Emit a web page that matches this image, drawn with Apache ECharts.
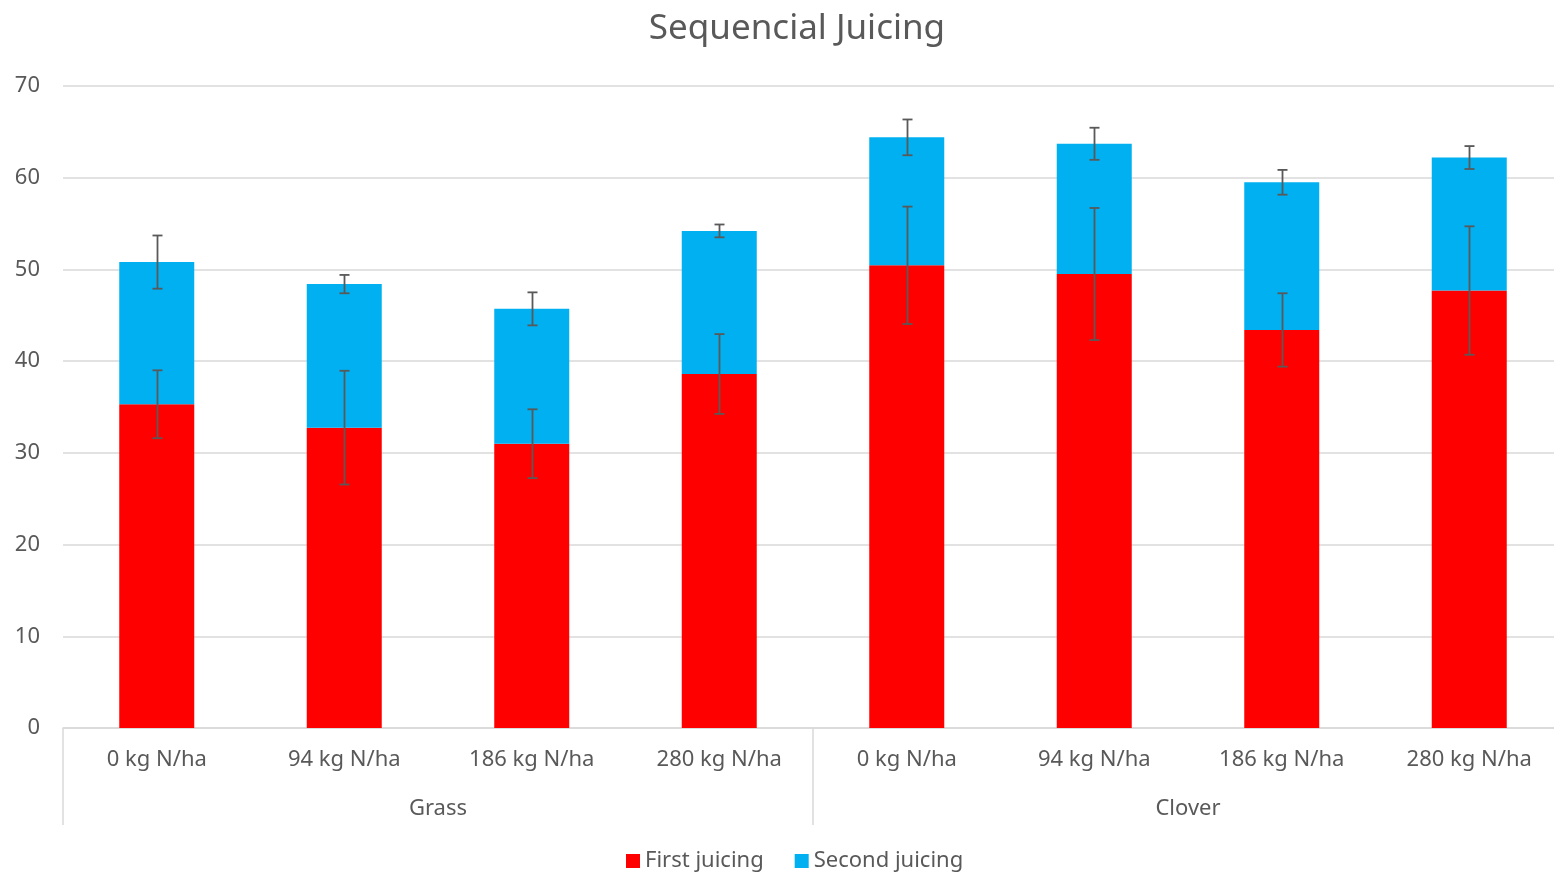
<!DOCTYPE html>
<html><head><meta charset="utf-8">
<script src="https://cdn.jsdelivr.net/npm/echarts@6/dist/echarts.min.js"></script>
<style>html,body{margin:0;padding:0;background:#fff;overflow:hidden}#c{width:1563px;height:876px}</style>
</head><body><div id="c"></div>
<script>
const categories = ['0 kg N/ha','94 kg N/ha','186 kg N/ha','280 kg N/ha','0 kg N/ha','94 kg N/ha','186 kg N/ha','280 kg N/ha'];
const groups = ['Grass','Clover'];
const firstJuicing = [35.3, 32.75, 31.0, 38.6, 50.45, 49.5, 43.4, 47.7];
const secondJuicing = [15.5, 15.65, 14.7, 15.6, 13.95, 14.2, 16.1, 14.5];
const firstErr = [3.7, 6.2, 3.75, 4.35, 6.4, 7.2, 4.0, 7.0];
const secondErr = [2.9, 1.0, 1.8, 0.7, 1.95, 1.75, 1.35, 1.25];
const yTicks = [0,10,20,30,40,50,60,70];

const FONT = '"Noto Sans", "Open Sans", sans-serif';
const TXT = '#595959';

const errData = [];
categories.forEach((c,i)=>{
  const f = firstJuicing[i];
  errData.push([i, f - firstErr[i], f + firstErr[i]]);
  const t = f + secondJuicing[i];
  errData.push([i, t - secondErr[i], t + secondErr[i]]);
});

const chart = echarts.init(document.getElementById('c'));
chart.setOption({
  animation:false,
  title:{text:'Sequencial Juicing', left:792, top:7, textAlign:'center',
    textStyle:{fontFamily:FONT, fontSize:35, fontWeight:'normal', color:TXT}},
  legend:{top:845, left:621, itemWidth:14, itemHeight:14, itemGap:31, icon:'rect',
    textStyle:{fontFamily:FONT, fontSize:22, color:TXT},
    data:['First juicing','Second juicing']},
  grid:{left:63, top:86, right:0, height:642},
  xAxis:[
    {type:'category', data:categories, axisLine:{lineStyle:{color:'#d9d9d9', width:1.5}},
     axisTick:{show:false}, axisLabel:{fontFamily:FONT, fontSize:22, color:TXT, margin:21}},
    {type:'category', data:groups, position:'bottom', axisLine:{show:false},
     axisTick:{show:true, length:97, lineStyle:{color:'#d9d9d9', width:1.5}},
     axisLabel:{fontFamily:FONT, fontSize:22, color:TXT, margin:70}}
  ],
  yAxis:{type:'value', min:0, max:70, interval:10,
    axisLine:{show:false}, axisTick:{show:false},
    splitLine:{lineStyle:{color:'#d9d9d9', width:1.5}},
    axisLabel:{fontFamily:FONT, fontSize:22, color:TXT, margin:23,
      formatter:v=> yTicks.includes(v) ? String(v) : ''}},
  series:[
    {name:'First juicing', type:'bar', stack:'a', data:firstJuicing, barWidth:'40%',
     itemStyle:{color:'#ff0000'}},
    {name:'Second juicing', type:'bar', stack:'a', data:secondJuicing, barWidth:'40%',
     itemStyle:{color:'#00b0f0'}},
    {type:'custom', data:errData, z:10,
     renderItem:function(params, api){
       const x = api.value(0);
       const lo = api.coord([x, api.value(1)]);
       const hi = api.coord([x, api.value(2)]);
       const cx = Math.round(lo[0]) + 0.5;
       const w = 5;
       const st = {stroke:'#595959', lineWidth:1.8};
       return {type:'group', children:[
         {type:'line', shape:{x1:cx, y1:lo[1], x2:cx, y2:hi[1]}, style:st},
         {type:'line', shape:{x1:cx-w, y1:lo[1], x2:cx+w, y2:lo[1]}, style:st},
         {type:'line', shape:{x1:cx-w, y1:hi[1], x2:cx+w, y2:hi[1]}, style:st}
       ]};
     }}
  ]
});
</script></body></html>
